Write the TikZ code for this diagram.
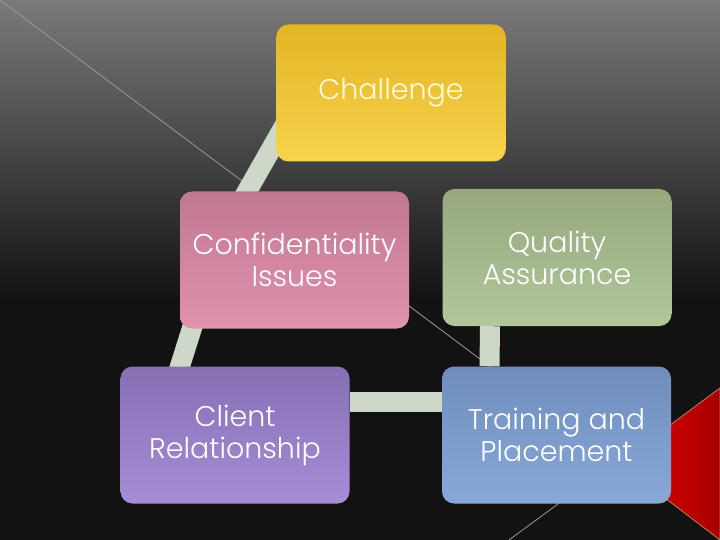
\documentclass[tikz,border=0pt]{standalone}
\usepackage{fontspec}
\setmainfont{Poppins}[UprightFont={* Light}]
\usetikzlibrary{backgrounds,calc}
\definecolor{linkgray}{HTML}{CDD8C8}
\definecolor{ruleline}{HTML}{9A9A9A}
\definecolor{bgtop}{HTML}{7A7A7A}
\definecolor{bgdark}{HTML}{121212}
\begin{document}
\begin{tikzpicture}[x=1pt, y=-1pt, every node/.style={rounded corners=12pt, align=center, text=white, font=\fontsize{28.5}{32}\selectfont, inner sep=0pt}, box/.style={minimum width=229pt, minimum height=137pt}, link/.style={draw=linkgray, line width=20pt}]
		\useasboundingbox (0,0) rectangle (720,540);
		\node[box, top color={rgb,255:red,226;green,181;blue,36}, bottom color={rgb,255:red,248;green,211;blue,77}, text={rgb,255:red,255;green,250;blue,220}](challenge) at (391,93){Challenge};
		\node[box, top color={rgb,255:red,193;green,120;blue,146}, bottom color={rgb,255:red,224;green,146;blue,174}](confidential) at (294.5,260){Confidentiality\\Issues};
		\node[box, top color={rgb,255:red,151;green,167;blue,126}, bottom color={rgb,255:red,177;green,200;blue,155}](quality) at (557,257.5){Quality\\Assurance};
		\node[box, top color={rgb,255:red,134;green,112;blue,180}, bottom color={rgb,255:red,166;green,141;blue,214}](client) at (235,435){Client\\Relationship};
		\node[box, top color={rgb,255:red,110;green,141;blue,188}, bottom color={rgb,255:red,136;green,169;blue,216}](training) at (556.5,435){Training and\\Placement};
		\coordinate (cha-low) at (299,100);
		\coordinate (con-high) at (208,260);
		\coordinate (con-low) at (204,290);
		\coordinate (cli-high) at (163,420);
		\begin{scope}[on background layer]
			\shade[top color=bgtop, bottom color=bgdark] (0,0) rectangle (720,300);
			\fill[bgdark] (0,300) rectangle (720,540);
			\draw[ruleline, line width=0.8pt] (0,0) -- (619,463);
			\draw[ruleline, line width=0.8pt] (509,540) -- (600,473);
			\draw[draw={rgb,255:red,190;green,130;blue,90}, line width=0.8pt, left color={rgb,255:red,235;green,0;blue,0}, right color={rgb,255:red,165;green,0;blue,0}] (619,463) -- (720,388) -- (720,540) -- cycle;
			\draw[link] (cha-low) -- (con-high);
			\draw[link] (con-low) -- (cli-high);
			\draw[link] ([yshift=33pt]client.east) -- ([yshift=33pt]training.west);
			\draw[link] ([xshift=-67pt]quality.south) -- ([xshift=-67pt]training.north);
		\end{scope}
	\end{tikzpicture}
\end{document}
